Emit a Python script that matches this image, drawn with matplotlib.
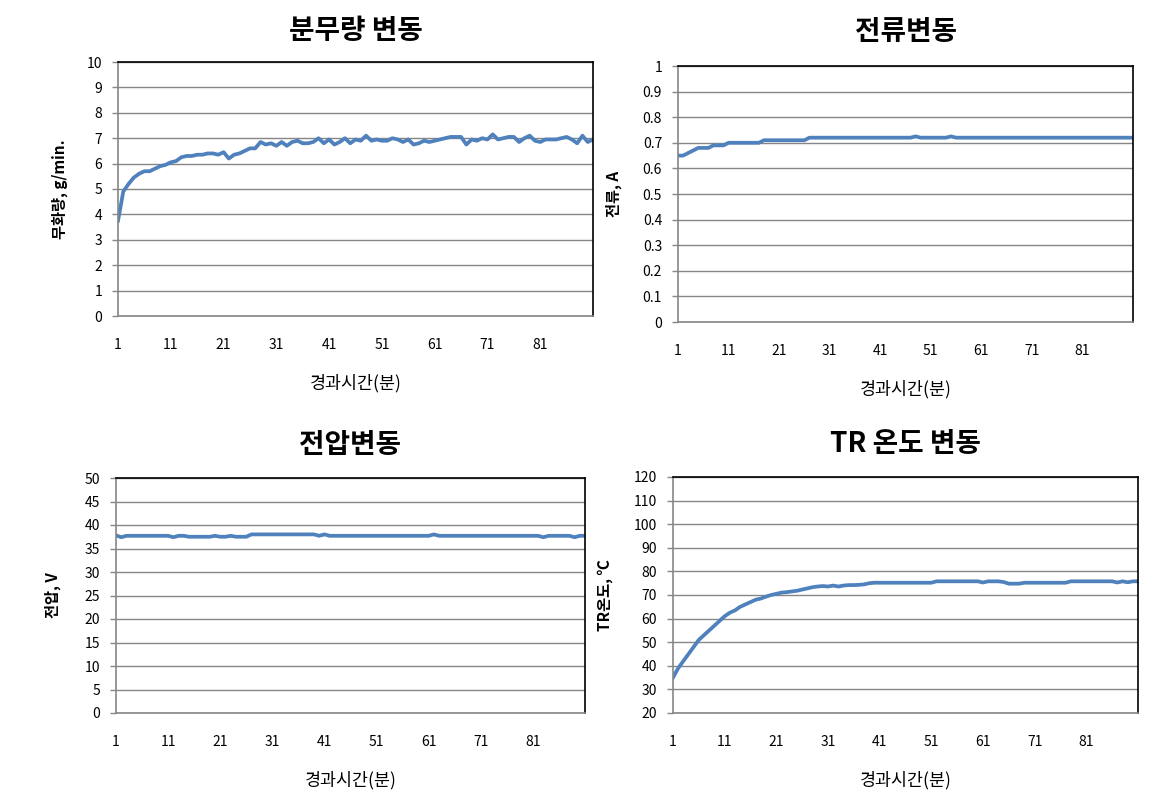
import numpy as np
import matplotlib
matplotlib.use('Agg')
import matplotlib.pyplot as plt

plt.rcParams['font.family'] = ['Noto Sans CJK KR', 'DejaVu Sans']

# elapsed time (minutes), category axis
minutes = list(range(1, 92))
tick_minutes = [1, 11, 21, 31, 41, 51, 61, 71, 81]

# spray amount, g/min
spray = [3.75, 4.9, 5.2, 5.45, 5.6, 5.7, 5.7, 5.8, 5.9, 5.95,
         6.05, 6.1, 6.25, 6.3, 6.3, 6.35, 6.35, 6.4, 6.4, 6.35,
         6.45, 6.2, 6.35, 6.4, 6.5, 6.6, 6.6, 6.85, 6.75, 6.8,
         6.7, 6.85, 6.7, 6.85, 6.9, 6.8, 6.8, 6.85, 7.0, 6.8,
         6.95, 6.75, 6.85, 7.0, 6.8, 6.95, 6.9, 7.1, 6.9, 6.95,
         6.9, 6.9, 7.0, 6.95, 6.85, 6.95, 6.75, 6.8, 6.9, 6.85,
         6.9, 6.95, 7.0, 7.05, 7.05, 7.05, 6.75, 6.95, 6.9, 7.0,
         6.95, 7.15, 6.95, 7.0, 7.05, 7.05, 6.85, 7.0, 7.1, 6.9,
         6.85, 6.95, 6.95, 6.95, 7.0, 7.05, 6.95, 6.8, 7.1, 6.85,
         6.95]

# current, A
current = [0.65, 0.65, 0.66, 0.67, 0.68, 0.68, 0.68, 0.69, 0.69, 0.69,
           0.70, 0.70, 0.70, 0.70, 0.70, 0.70, 0.70, 0.71, 0.71, 0.71,
           0.71, 0.71, 0.71, 0.71, 0.71, 0.71, 0.72, 0.72, 0.72, 0.72,
           0.72, 0.72, 0.72, 0.72, 0.72, 0.72, 0.72, 0.72, 0.72, 0.72,
           0.72, 0.72, 0.72, 0.72, 0.72, 0.72, 0.72, 0.725, 0.72, 0.72,
           0.72, 0.72, 0.72, 0.72, 0.725, 0.72, 0.72, 0.72, 0.72, 0.72,
           0.72, 0.72, 0.72, 0.72, 0.72, 0.72, 0.72, 0.72, 0.72, 0.72,
           0.72, 0.72, 0.72, 0.72, 0.72, 0.72, 0.72, 0.72, 0.72, 0.72,
           0.72, 0.72, 0.72, 0.72, 0.72, 0.72, 0.72, 0.72, 0.72, 0.72,
           0.72]

# voltage, V
voltage = [37.8, 37.4, 37.7, 37.7, 37.7, 37.7, 37.7, 37.7, 37.7, 37.7,
           37.7, 37.4, 37.7, 37.7, 37.5, 37.5, 37.5, 37.5, 37.5, 37.7,
           37.5, 37.5, 37.7, 37.5, 37.5, 37.5, 38.0, 38.0, 38.0, 38.0,
           38.0, 38.0, 38.0, 38.0, 38.0, 38.0, 38.0, 38.0, 38.0, 37.7,
           38.0, 37.7, 37.7, 37.7, 37.7, 37.7, 37.7, 37.7, 37.7, 37.7,
           37.7, 37.7, 37.7, 37.7, 37.7, 37.7, 37.7, 37.7, 37.7, 37.7,
           37.7, 38.0, 37.7, 37.7, 37.7, 37.7, 37.7, 37.7, 37.7, 37.7,
           37.7, 37.7, 37.7, 37.7, 37.7, 37.7, 37.7, 37.7, 37.7, 37.7,
           37.7, 37.7, 37.4, 37.7, 37.7, 37.7, 37.7, 37.7, 37.4, 37.7,
           37.7]

# TR temperature, degC
temp = [35, 39, 42, 45, 48, 51, 53, 55, 57, 59,
        61, 62.5, 63.5, 65, 66, 67, 68, 68.5, 69.3, 70,
        70.5, 71, 71.2, 71.5, 71.8, 72.3, 72.8, 73.3, 73.6, 73.8,
        73.6, 74, 73.6, 74, 74.2, 74.2, 74.3, 74.5, 75, 75.2,
        75.2, 75.2, 75.2, 75.2, 75.2, 75.2, 75.2, 75.2, 75.2, 75.2,
        75.2, 75.8, 75.8, 75.8, 75.8, 75.8, 75.8, 75.8, 75.8, 75.8,
        75.3, 75.8, 75.8, 75.8, 75.5, 74.8, 74.8, 74.8, 75.2, 75.2,
        75.2, 75.2, 75.2, 75.2, 75.2, 75.2, 75.2, 75.8, 75.8, 75.8,
        75.8, 75.8, 75.8, 75.8, 75.8, 75.8, 75.3, 75.8, 75.4, 75.8,
        75.8]

W, H = 1162, 808
fig = plt.figure(figsize=(W / 100, H / 100), dpi=100)

line_color = '#4F81BD'
grid_color = '#868686'


def px_axes(left, top, right, bottom):
    return fig.add_axes([left / W, 1 - bottom / H, (right - left) / W, (bottom - top) / H])


def draw_panel(box, values, ylim, ystep, title, ylabel, title_y, ylabel_x, yfmt):
    left, top, right, bottom = box
    ax = px_axes(left, top, right, bottom)
    ax.plot(minutes, values, color=line_color, lw=2.7, solid_joinstyle='round')
    ax.set_xlim(1, 91)
    ax.set_ylim(*ylim)
    yt = np.arange(ylim[0], ylim[1] + ystep / 2, ystep)
    ax.set_yticks(yt)
    ax.set_yticklabels([yfmt(v) for v in yt], fontsize=10)
    ax.set_xticks(tick_minutes)
    ax.set_xticklabels([str(m) for m in tick_minutes], fontsize=10)
    ax.tick_params(axis='x', length=0, pad=16)
    ax.tick_params(axis='y', length=4.5, width=1, color=grid_color, pad=7)
    ax.yaxis.grid(True, color=grid_color, lw=1)
    ax.set_axisbelow(True)
    for s in ['left', 'bottom']:
        ax.spines[s].set_color(grid_color)
        ax.spines[s].set_linewidth(1.2)
    for s in ['top', 'right']:
        ax.spines[s].set_color('black')
        ax.spines[s].set_linewidth(1.2)
    cx = (left + right) / 2 / W
    fig.text(cx, 1 - title_y / H, title, ha='center', va='center',
             fontsize=20, fontweight='bold')
    fig.text(cx, 1 - (bottom + 67) / H, '경과시간(분)', ha='center', va='center', fontsize=12.5)
    fig.text(ylabel_x / W, 1 - (top + bottom) / 2 / H, ylabel, rotation=90,
             ha='center', va='center', fontsize=11, fontweight='bold')
    return ax


draw_panel((118, 62, 593, 316), spray, (0, 10), 1, '분무량 변동', '무화량, g/min.',
           31, 60, lambda v: '%d' % v)
draw_panel((678, 66, 1133, 322), current, (0, 1), 0.1, '전류변동', '전류, A',
           32, 614, lambda v: '%g' % round(v, 1))
draw_panel((116, 478, 585, 713), voltage, (0, 50), 5, '전압변동', '전압, V',
           445, 53, lambda v: '%d' % v)
draw_panel((673, 477, 1138, 713), temp, (20, 120), 10, 'TR 온도 변동', 'TR온도, ℃',
           444, 605, lambda v: '%d' % v)

fig.savefig('out.png', dpi=100)
